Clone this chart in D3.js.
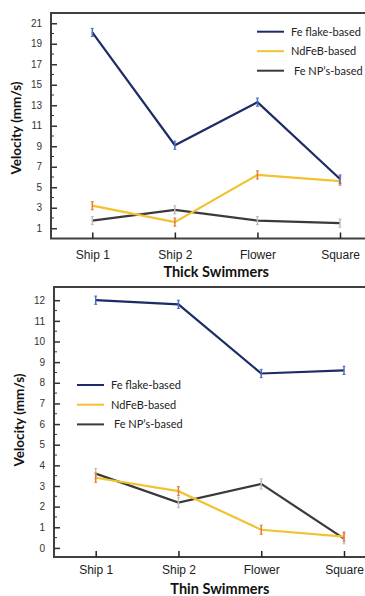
<!DOCTYPE html>
<html>
<head>
<meta charset="utf-8">
<script src="https://cdn.jsdelivr.net/npm/d3@7"></script>
<style>
  body { margin: 0; background: #fff; }
  svg { display: block; font-family: Lato, "Open Sans", sans-serif; }
</style>
</head>
<body>
<div class="chart"></div>
<script>
var categories = ["Ship 1", "Ship 2", "Flower", "Square"];
var seriesNames = ["Fe flake-based", "NdFeB-based", "Fe NP\u2019s-based"];

// thick swimmers (top panel)
var thickFlake = [20.1, 9.1, 13.3, 5.8];
var thickNdFeB = [3.2, 1.6, 6.2, 5.6];
var thickNP = [1.75, 2.8, 1.75, 1.5];
var thickErr = [0.4, 0.4, 0.4];
var thickTicks = [1, 3, 5, 7, 9, 11, 13, 15, 17, 19, 21];

// thin swimmers (bottom panel)
var thinFlake = [12.0, 11.8, 8.45, 8.6];
var thinNdFeB = [3.4, 2.75, 0.88, 0.55];
var thinNP = [3.6, 2.2, 3.1, 0.45];
var thinErr = [0.2, 0.22, 0.25];
var thinTicks = [0, 1, 2, 3, 4, 5, 6, 7, 8, 9, 10, 11, 12];

var lineColors = ["#1d2b66", "#f2c230", "#3a3a3a"];
var errColors = ["#4d6fbf", "#e8793a", "#bdbdbd"];

var W = 365, H = 596;
var svg = d3.select(".chart").append("svg")
    .attr("width", W)
    .attr("height", H);

function panel(cfg) {
  var g = svg.append("g");
  var x = d3.scalePoint().domain(categories).range([cfg.x0, cfg.x1]);
  var y = d3.scaleLinear().domain(cfg.domain).range([cfg.bottom, cfg.top]);

  // frame: left, top, bottom
  g.append("path")
    .attr("d", "M" + W + "," + cfg.top + "H" + cfg.left + "V" + cfg.bottom + "H" + W)
    .attr("fill", "none")
    .attr("stroke", "#404040")
    .attr("stroke-width", 2);

  // minor ticks
  g.selectAll(".minor").data(cfg.minor).enter().append("line")
    .attr("x1", cfg.left).attr("x2", cfg.left + 3)
    .attr("y1", function(d) { return y(d); })
    .attr("y2", function(d) { return y(d); })
    .attr("stroke", "#333").attr("stroke-width", 1);

  var yAxis = g.append("g")
    .attr("transform", "translate(" + cfg.left + ",0)")
    .call(d3.axisLeft(y).tickValues(cfg.ticks).tickSize(-6).tickPadding(9));
  yAxis.select(".domain").remove();
  yAxis.selectAll(".tick line").attr("stroke", "#333").attr("stroke-width", 1.5);
  yAxis.selectAll("text").attr("font-size", 10).attr("fill", "#333");

  var xAxis = g.append("g")
    .attr("transform", "translate(0," + cfg.bottom + ")")
    .call(d3.axisBottom(x).tickSize(-6).tickPadding(cfg.xPad));
  xAxis.select(".domain").remove();
  xAxis.selectAll(".tick line").attr("stroke", "#222").attr("stroke-width", 1.5);
  xAxis.selectAll("text").attr("font-size", 12).attr("fill", "#222");

  g.append("text")
    .attr("x", (cfg.x0 + cfg.x1) / 2)
    .attr("y", cfg.bottom + cfg.titleDy)
    .attr("text-anchor", "middle")
    .attr("font-size", 14.5)
    .attr("font-weight", "bold")
    .attr("fill", "#111")
    .text(cfg.title);

  g.append("text")
    .attr("transform", "translate(" + cfg.ytitleX + "," + cfg.ytitleY + ") rotate(-90)")
    .attr("text-anchor", "middle")
    .attr("font-size", 13.5)
    .attr("font-weight", "bold")
    .attr("fill", "#111")
    .text("Velocity (mm/s)");

  var line = d3.line()
    .x(function(d, i) { return x(categories[i]); })
    .y(function(d) { return y(d); });

  // draw in order: NP, NdFeB, flake on top
  [2, 1, 0].forEach(function(s) {
    var vals = cfg.series[s];
    g.append("path")
      .datum(vals)
      .attr("d", line)
      .attr("fill", "none")
      .attr("stroke", lineColors[s])
      .attr("stroke-width", 2.2);
    var eb = g.selectAll(".eb" + s).data(vals).enter().append("g");
    eb.append("line")
      .attr("x1", function(d, i) { return x(categories[i]); })
      .attr("x2", function(d, i) { return x(categories[i]); })
      .attr("y1", function(d) { return y(d - cfg.err[s]); })
      .attr("y2", function(d) { return y(d + cfg.err[s]); })
      .attr("stroke", errColors[s]).attr("stroke-width", 1.5);
    [-1, 1].forEach(function(k) {
      eb.append("line")
        .attr("x1", function(d, i) { return x(categories[i]) - 1.5; })
        .attr("x2", function(d, i) { return x(categories[i]) + 1.5; })
        .attr("y1", function(d) { return y(d + k * cfg.err[s]); })
        .attr("y2", function(d) { return y(d + k * cfg.err[s]); })
        .attr("stroke", errColors[s]).attr("stroke-width", 1);
    });
  });

  // legend
  var lg = g.append("g");
  seriesNames.forEach(function(name, i) {
    var ly = cfg.legY + i * cfg.legStep;
    lg.append("line")
      .attr("x1", cfg.legX).attr("x2", cfg.legX + 27)
      .attr("y1", ly).attr("y2", ly)
      .attr("stroke", lineColors[i]).attr("stroke-width", 2);
    lg.append("text")
      .attr("x", cfg.legX + 34 + (i === 2 ? 3 : 0))
      .attr("y", ly)
      .attr("dy", "0.35em")
      .attr("font-size", 11)
      .attr("fill", "#222")
      .text(name);
  });
}

panel({
  title: "Thick Swimmers",
  domain: [0, 22], top: 13, bottom: 238.5, left: 51, x0: 92.3, x1: 340,
  ticks: thickTicks, minor: [2, 4, 6, 8, 10, 12, 14, 16, 18, 20],
  series: [thickFlake, thickNdFeB, thickNP], err: thickErr,
  ytitleX: 21, ytitleY: 128, titleDy: 38, xPad: 12,
  legX: 257, legY: 31.7, legStep: 19.5
});

panel({
  title: "Thin Swimmers",
  domain: [-0.44, 12.64], top: 287, bottom: 557, left: 54, x0: 95.7, x1: 344,
  ticks: thinTicks, minor: [0.5, 1.5, 2.5, 3.5, 4.5, 5.5, 6.5, 7.5, 8.5, 9.5, 10.5, 11.5],
  series: [thinFlake, thinNdFeB, thinNP], err: thinErr,
  ytitleX: 24, ytitleY: 420, titleDy: 36.5, xPad: 8,
  legX: 77, legY: 385, legStep: 19.7
});
</script>
</body>
</html>
